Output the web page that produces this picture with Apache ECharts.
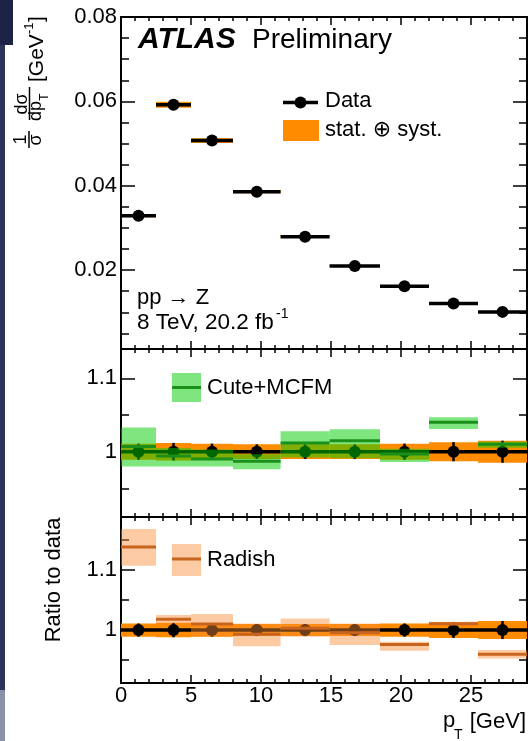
<!DOCTYPE html>
<html>
<head>
<meta charset="utf-8">
<script src="https://cdn.jsdelivr.net/npm/echarts@6.0.0/dist/echarts.min.js"></script>
<style>
  html, body { margin: 0; padding: 0; background: #fff; }
  #chart { width: 528px; height: 741px; }
</style>
</head>
<body>
<div id="chart"></div>
<script>
// p_T bins [GeV]
const binEdges = [0, 2.5, 5, 8, 11.4, 14.9, 18.5, 22, 25.5, 29];
const binCenters = [1.25, 3.75, 6.5, 9.7, 13.15, 16.7, 20.25, 23.75, 27.25];

// 1/sigma dsigma/dpT [GeV^-1] and relative stat+syst uncertainty
const dataValues = [0.0329, 0.0592, 0.0507, 0.0386, 0.0279, 0.0210, 0.0162, 0.0121, 0.0101];
const dataErr = [0.011, 0.012, 0.011, 0.010, 0.010, 0.010, 0.011, 0.013, 0.015];
const dataRatio = [1, 1, 1, 1, 1, 1, 1, 1, 1];

// Cute+MCFM / data
const cuteRatio = [1.007, 0.994, 0.990, 0.987, 1.012, 1.015, 0.997, 1.040, 1.010];
const cuteLow = [0.980, 0.980, 0.980, 0.976, 0.992, 0.991, 0.986, 1.031, 1.0055];
const cuteHigh = [1.033, 1.005, 1.003, 0.9965, 1.028, 1.0305, 1.004, 1.047, 1.0136];

// Radish / data
const radishRatio = [1.138, 1.018, 1.010, 0.993, 1.003, 0.9956, 0.976, 1.0106, 0.960];
const radishLow = [1.107, 1.011, 0.989, 0.973, 0.989, 0.975, 0.9656, 1.007, 0.9528];
const radishHigh = [1.168, 1.025, 1.0267, 1.011, 1.0194, 1.011, 0.9806, 1.014, 0.9667];

// ticks
const xMajorTicks = [0, 5, 10, 15, 20, 25];
const xMinorTicks = [1, 2, 3, 4, 6, 7, 8, 9, 11, 12, 13, 14, 16, 17, 18, 19, 21, 22, 23, 24, 26, 27, 28];
const topMajorTicks = [0.02, 0.04, 0.06, 0.08];
const topMinorTicks = [0.005, 0.01, 0.015, 0.025, 0.03, 0.035, 0.045, 0.05, 0.055, 0.065, 0.07, 0.075];
const ratioMajorTicks = [1, 1.1];
const ratioMinorTicks = [0.95, 1.05, 1.15];

const FONT = '"Liberation Sans", Arial, "DejaVu Sans", sans-serif';
const ORANGE = '#ff8c00';
const GREEN_BAND = 'rgba(0, 205, 0, 0.5)';
const GREEN_LINE = '#1a8f1a';
const RADISH_BAND = 'rgba(250, 140, 50, 0.45)';
const RADISH_LINE = '#c8641e';

const tickStyle = { color: '#000', width: 1.5 };

// major + minor ticks on both sides of a grid, all pointing inward
function buildAxes(gridIndex, min, max, majors, minors, positions, majorLen, minorLen, label) {
  const axes = [];
  positions.forEach((pos, k) => {
    [[majors, majorLen], [minors, minorLen]].forEach(([vals, len], m) => {
      axes.push({
        type: 'value',
        gridIndex: gridIndex,
        position: pos,
        min: min,
        max: max,
        axisLine: { show: false, onZero: false },
        splitLine: { show: false },
        axisTick: { show: true, inside: true, length: len, customValues: vals, lineStyle: tickStyle },
        axisLabel: (k === 0 && m === 0 && label)
          ? Object.assign({ show: true, customValues: vals, color: '#000', fontFamily: FONT, fontSize: 22, showMinLabel: true, showMaxLabel: true }, label)
          : { show: false }
      });
    });
  });
  return axes;
}

const xAxes = [].concat(
  buildAxes(0, 0, 29, xMajorTicks, xMinorTicks, ['bottom', 'top'], 8, 4, null),
  buildAxes(1, 0, 29, xMajorTicks, xMinorTicks, ['bottom', 'top'], 8, 4, null),
  buildAxes(2, 0, 29, xMajorTicks, xMinorTicks, ['bottom', 'top'], 8, 4, { margin: 2 })
);
const yAxes = [].concat(
  buildAxes(0, 0.0013, 0.08, topMajorTicks, topMinorTicks, ['left', 'right'], 14, 8,
    { margin: 4, formatter: v => v.toFixed(2) }),
  buildAxes(1, 0.911, 1.14, ratioMajorTicks, ratioMinorTicks, ['left', 'right'], 14, 8,
    { margin: 4, formatter: v => String(v) }),
  buildAxes(2, 0.912, 1.188, ratioMajorTicks, ratioMinorTicks, ['left', 'right'], 14, 8,
    { margin: 4, formatter: v => String(v) })
);

// band rectangles over each bin
function bandSeries(g, lows, highs, color, z) {
  return {
    type: 'custom', xAxisIndex: g * 4, yAxisIndex: g * 4, z: z, silent: true, clip: true,
    data: lows.map((lo, i) => [binEdges[i], binEdges[i + 1], lo, highs[i]]),
    renderItem: function (params, api) {
      const p0 = api.coord([api.value(0), api.value(3)]);
      const p1 = api.coord([api.value(1), api.value(2)]);
      return {
        type: 'rect',
        shape: { x: p0[0], y: p0[1], width: p1[0] - p0[0], height: p1[1] - p0[1] },
        style: { fill: color }
      };
    }
  };
}

// horizontal line across each bin
function binLineSeries(g, values, color, width, z) {
  return {
    type: 'custom', xAxisIndex: g * 4, yAxisIndex: g * 4, z: z, silent: true, clip: true,
    data: values.map((v, i) => [binEdges[i], binEdges[i + 1], v]),
    renderItem: function (params, api) {
      const p0 = api.coord([api.value(0), api.value(2)]);
      const p1 = api.coord([api.value(1), api.value(2)]);
      return {
        type: 'line',
        shape: { x1: p0[0], y1: p0[1], x2: p1[0], y2: p1[1] },
        style: { stroke: color, lineWidth: width }
      };
    }
  };
}

// vertical error bars at bin centres
function errorBarSeries(g, values, rel, z) {
  return {
    type: 'custom', xAxisIndex: g * 4, yAxisIndex: g * 4, z: z, silent: true, clip: true,
    data: values.map((v, i) => [binCenters[i], v * (1 - rel[i]), v * (1 + rel[i])]),
    renderItem: function (params, api) {
      const p0 = api.coord([api.value(0), api.value(1)]);
      const p1 = api.coord([api.value(0), api.value(2)]);
      return {
        type: 'line',
        shape: { x1: p0[0], y1: p0[1], x2: p1[0], y2: p1[1] },
        style: { stroke: '#000', lineWidth: 2.5 }
      };
    }
  };
}

function dotSeries(g, values, z) {
  return {
    type: 'scatter', xAxisIndex: g * 4, yAxisIndex: g * 4, z: z, silent: true,
    symbol: 'circle', symbolSize: 12,
    itemStyle: { color: '#000', opacity: 1 },
    data: values.map((v, i) => [binCenters[i], v])
  };
}

const series = [
  // top panel
  bandSeries(0, dataValues.map((v, i) => v * (1 - dataErr[i])), dataValues.map((v, i) => v * (1 + dataErr[i])), ORANGE, 2),
  binLineSeries(0, dataValues, '#000', 3.5, 3),
  dotSeries(0, dataValues, 4),
  // middle panel: Cute+MCFM
  bandSeries(1, dataRatio.map((v, i) => v - dataErr[i]), dataRatio.map((v, i) => v + dataErr[i]), ORANGE, 2),
  binLineSeries(1, dataRatio, '#000', 3.5, 3),
  errorBarSeries(1, dataRatio, dataErr, 4),
  dotSeries(1, dataRatio, 4),
  bandSeries(1, cuteLow, cuteHigh, GREEN_BAND, 5),
  binLineSeries(1, cuteRatio, GREEN_LINE, 3, 6),
  // bottom panel: Radish
  bandSeries(2, dataRatio.map((v, i) => v - dataErr[i]), dataRatio.map((v, i) => v + dataErr[i]), ORANGE, 2),
  binLineSeries(2, dataRatio, '#000', 3.5, 3),
  errorBarSeries(2, dataRatio, dataErr, 4),
  dotSeries(2, dataRatio, 4),
  bandSeries(2, radishLow, radishHigh, RADISH_BAND, 5),
  binLineSeries(2, radishRatio, RADISH_LINE, 3, 6)
];

function txt(text, x, y, size, extra) {
  return {
    type: 'text', x: x, y: y, z: 10,
    style: Object.assign({ text: text, fill: '#000', fontFamily: FONT, fontSize: size, align: 'left', verticalAlign: 'middle' }, extra || {})
  };
}
function rotTxt(text, x, y, size, align) {
  const t = txt(text, x, y, size, { align: align || 'center' });
  t.rotation = Math.PI / 2;
  return t;
}

const graphic = [
  // slide background bleeding in at the left edge
  { type: 'rect', shape: { x: 0, y: 0, width: 5, height: 741 }, style: { fill: '#2b3358' }, z: 0 },
  { type: 'rect', shape: { x: 0, y: 0, width: 13, height: 45 }, style: { fill: '#1c2346' }, z: 0 },
  { type: 'rect', shape: { x: 0, y: 690, width: 5, height: 51 }, style: { fill: '#8a90a8' }, z: 0 },

  // y axis title: 1/sigma dsigma/dpT [GeV^-1]
  rotTxt('1', 21.5, 139.5, 18),
  { type: 'line', shape: { x1: 29, y1: 131, x2: 29, y2: 148 }, style: { stroke: '#000', lineWidth: 1.5 }, z: 10 },
  rotTxt('σ', 36, 140, 18),
  rotTxt('dσ', 22, 104, 18),
  { type: 'line', shape: { x1: 29.5, y1: 87, x2: 29.5, y2: 120 }, style: { stroke: '#000', lineWidth: 1.5 }, z: 10 },
  rotTxt('dp', 36.5, 111, 18),
  rotTxt('T', 45, 97, 12),
  rotTxt('[GeV', 37, 82, 21, 'left'),
  rotTxt('-1', 29, 34, 13, 'left'),
  rotTxt(']', 37, 22, 21, 'left'),

  rotTxt('Ratio to data', 54, 580, 22),

  // x axis title
  txt('p', 443, 721, 22),
  txt('T', 454, 735, 14),
  txt('[GeV]', 526, 722, 22, { align: 'right' }),

  // ATLAS label
  txt('ATLAS', 138, 40, 30, { fontWeight: 'bold', fontStyle: 'italic' }),
  txt('Preliminary', 252, 40, 28),

  // top legend
  { type: 'line', shape: { x1: 283, y1: 102.5, x2: 318, y2: 102.5 }, style: { stroke: '#000', lineWidth: 3.5 }, z: 10 },
  { type: 'circle', shape: { cx: 300.5, cy: 102.5, r: 6 }, style: { fill: '#000' }, z: 10 },
  txt('Data', 325, 101, 22),
  { type: 'rect', shape: { x: 283, y: 120, width: 36, height: 21 }, style: { fill: ORANGE }, z: 10 },
  txt('stat. ⊕ syst.', 325, 130, 22),

  txt('pp → Z', 137, 298, 22),
  txt('8 TeV, 20.2 fb', 137, 323, 22.5),
  txt('-1', 276, 314, 14),

  // middle legend
  { type: 'rect', shape: { x: 172, y: 373, width: 29, height: 29 }, style: { fill: GREEN_BAND }, z: 10 },
  { type: 'line', shape: { x1: 172, y1: 387.5, x2: 201, y2: 387.5 }, style: { stroke: GREEN_LINE, lineWidth: 3 }, z: 11 },
  txt('Cute+MCFM', 207, 387.5, 22),

  // bottom legend
  { type: 'rect', shape: { x: 172, y: 544, width: 29, height: 32 }, style: { fill: RADISH_BAND }, z: 10 },
  { type: 'line', shape: { x1: 172, y1: 559, x2: 201, y2: 559 }, style: { stroke: RADISH_LINE, lineWidth: 3 }, z: 11 },
  txt('Radish', 207, 560, 22)
];

const chart = echarts.init(document.getElementById('chart'), null, { renderer: 'canvas' });
chart.setOption({
  animation: false,
  backgroundColor: '#fff',
  grid: [
    { left: 121, right: 1, top: 17, height: 332, show: true, borderColor: '#000', borderWidth: 2, backgroundColor: 'transparent' },
    { left: 121, right: 1, top: 349, height: 168, show: true, borderColor: '#000', borderWidth: 2, backgroundColor: 'transparent' },
    { left: 121, right: 1, top: 517, height: 166, show: true, borderColor: '#000', borderWidth: 2, backgroundColor: 'transparent' }
  ],
  xAxis: xAxes,
  yAxis: yAxes,
  series: series,
  graphic: graphic
});
</script>
</body>
</html>
